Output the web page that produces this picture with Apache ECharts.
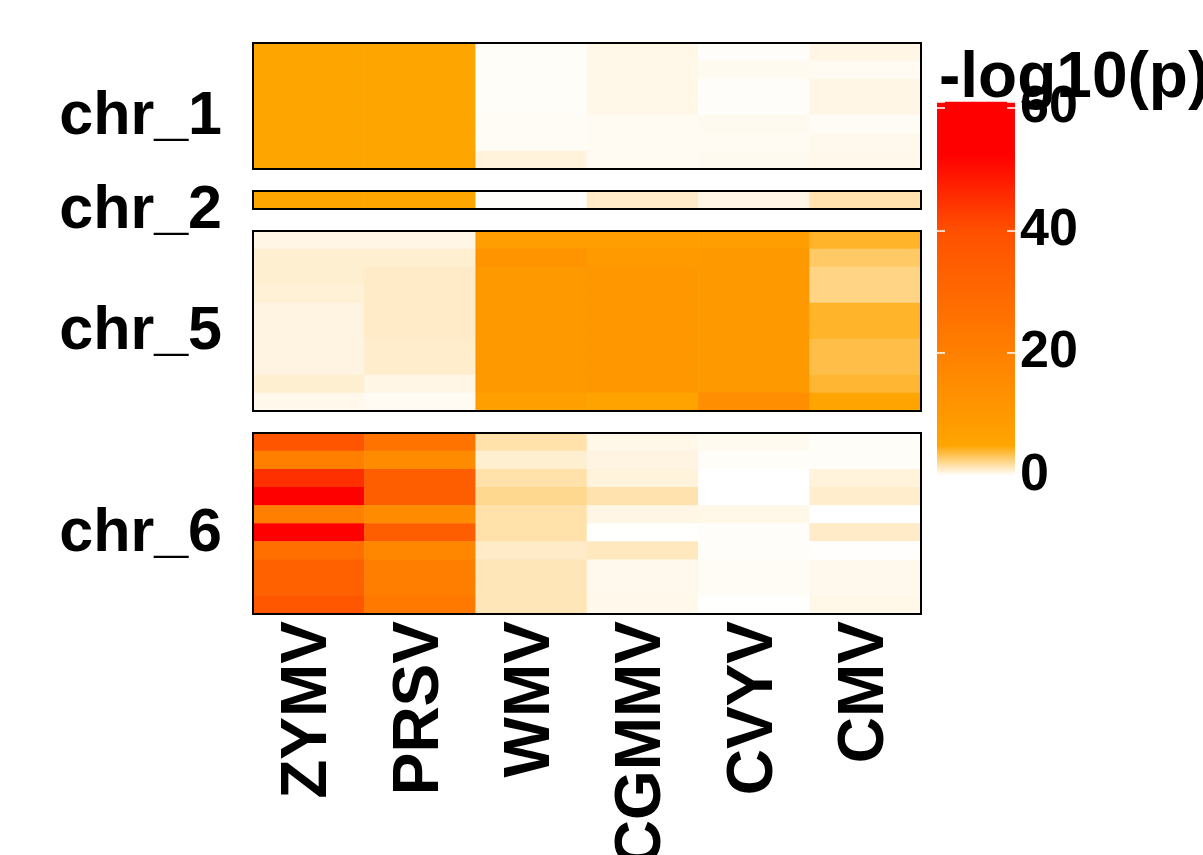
<!DOCTYPE html>
<html>
<head>
<meta charset="utf-8">
<script src="https://cdn.jsdelivr.net/npm/echarts@6/dist/echarts.min.js"></script>
<style>
html,body{margin:0;padding:0;background:#fff;}
#main{width:1203px;height:855px;}
</style>
</head>
<body>
<div id="main"></div>
<script>
// ---- data ----
const columns = ['ZYMV', 'PRSV', 'WMV', 'CGMMV', 'CVYV', 'CMV'];
const panelNames = ['chr_1', 'chr_2', 'chr_5', 'chr_6'];
// rows top to bottom, values in column order
const chr1 = [
  [5, 5, 0.15, 0.45, 0.12, 0.5],
  [5, 5, 0.15, 0.45, 0.3, 0.25],
  [5, 5, 0.15, 0.45, 0.12, 0.5],
  [5, 5, 0.15, 0.45, 0.12, 0.5],
  [5, 5, 0.2, 0.25, 0.3, 0.2],
  [5, 5, 0.2, 0.25, 0.25, 0.35],
  [5, 5, 0.7, 0.25, 0.3, 0.4]
];
const chr2 = [
  [5, 5, 0.15, 1.1, 0.5, 1.6]
];
const chr5 = [
  [0.5, 0.5, 8, 8, 8, 4.2],
  [0.9, 0.9, 12, 9, 10, 3.0],
  [0.9, 1.1, 10, 10.5, 10, 2.4],
  [0.8, 1.1, 10, 10.5, 10, 2.4],
  [0.6, 1.1, 10, 10.5, 10, 4.2],
  [0.6, 1.1, 10, 10.5, 10, 4.2],
  [0.6, 1.0, 10, 10.5, 10, 3.6],
  [0.6, 1.0, 10, 10.5, 10, 3.6],
  [0.9, 0.5, 10, 10.5, 10, 4.0],
  [0.4, 0.25, 7, 6, 14, 5.2]
];
const chr6 = [
  [38, 25, 1.7, 0.45, 0.3, 0.15],
  [20, 15, 0.9, 0.6, 0.15, 0.15],
  [45, 34, 1.7, 0.7, 0.0, 0.7],
  [55, 34, 2.2, 1.6, 0.0, 1.0],
  [20, 15, 1.7, 0.5, 0.45, 0.0],
  [54, 34, 1.7, 0.03, 0.1, 1.1],
  [27, 17, 1.1, 1.3, 0.1, 0.05],
  [33, 21, 1.4, 0.35, 0.2, 0.35],
  [33, 21, 1.4, 0.35, 0.2, 0.35],
  [37, 23, 1.4, 0.4, 0.03, 0.45]
];
const panels = [chr1, chr2, chr5, chr6];
const legendTicks = [0, 20, 40, 60];
const legendMax = 61;
const legendTitle = '-log10(p)';

// ---- colour scale ----
const colorStops = [[0, '#FFFFFF'], [5, '#FFA500'], [20, '#FF8000'], [40, '#FF5000'], [52.4, '#FF0000'], [61, '#FF0000']];
function hex2rgb(h) { return [parseInt(h.substr(1,2),16), parseInt(h.substr(3,2),16), parseInt(h.substr(5,2),16)]; }
function colorAt(v) {
  for (let i = 0; i < colorStops.length - 1; i++) {
    const a = colorStops[i], b = colorStops[i+1];
    if (v <= b[0]) {
      const t = (v - a[0]) / (b[0] - a[0]);
      const ca = hex2rgb(a[1]), cb = hex2rgb(b[1]);
      return 'rgb(' + ca.map((c, k) => Math.round(c + (cb[k] - c) * t)).join(',') + ')';
    }
  }
  return colorStops[colorStops.length - 1][1];
}
const rampColors = [];
for (let v = 0; v <= legendMax + 1e-9; v += 0.25) rampColors.push(colorAt(v));

// ---- layout ----
const FONT = '"Liberation Sans", Arial, sans-serif';
const gridTops = [43, 191, 231, 433];
const gridHeights = [126, 18, 180, 181];
const gridLeft = 253, gridWidth = 668;

const grids = [], xAxes = [], yAxes = [], series = [];
panels.forEach((rows, p) => {
  grids.push({left: gridLeft, top: gridTops[p], width: gridWidth, height: gridHeights[p],
    outerBoundsMode: 'none', containLabel: false,
    show: true, borderColor: '#000', borderWidth: 2, backgroundColor: 'transparent', z: 10});
  const last = p === panels.length - 1;
  xAxes.push({type: 'category', gridIndex: p, data: columns, show: last,
    axisLine: {show: false}, axisTick: {show: false}, splitLine: {show: false},
    axisLabel: {show: last, rotate: 90, margin: 7, fontSize: 64, fontWeight: 'bold', color: '#000', fontFamily: FONT}});
  yAxes.push({type: 'category', gridIndex: p, inverse: true,
    data: rows.map((r, i) => String(i)),
    axisLine: {show: false}, axisTick: {show: false}, axisLabel: {show: false}, splitLine: {show: false},
    name: '{n|' + panelNames[p] + '}', nameLocation: 'middle', nameRotate: 0, nameGap: 31,
    nameTextStyle: {align: 'right', verticalAlign: 'middle',
      rich: {n: {fontSize: 61, fontWeight: 'bold', color: '#000', fontFamily: FONT, padding: [22, 0, 0, 0]}}}});
  const d = [];
  rows.forEach((r, i) => r.forEach((v, j) => d.push([j, i, v])));
  series.push({type: 'heatmap', xAxisIndex: p, yAxisIndex: p, data: d, silent: true,
    itemStyle: {borderWidth: 0}, emphasis: {disabled: true}, progressive: 0});
});

// colour bar
const cbIndex = panels.length;
grids.push({left: 937, top: 101.7, width: 78, height: 374.1, show: false, outerBoundsMode: 'none', containLabel: false});
xAxes.push({type: 'category', gridIndex: cbIndex, data: [''], show: false});
const tickStyle = {show: true, inside: true, length: 8, lineStyle: {color: '#fff', width: 1.5}};
yAxes.push({type: 'value', gridIndex: cbIndex, min: 0, max: legendMax, interval: 20, position: 'left', z: 10,
  axisLine: {show: false}, splitLine: {show: false}, axisLabel: {show: false}, axisTick: tickStyle});
yAxes.push({type: 'value', gridIndex: cbIndex, min: 0, max: legendMax, interval: 20, position: 'right', z: 10,
  axisLine: {show: false}, splitLine: {show: false}, axisTick: tickStyle,
  axisLabel: {show: true, margin: 5, fontSize: 52, fontWeight: 'bold', color: '#000', fontFamily: FONT,
    formatter: v => legendTicks.indexOf(v) >= 0 ? String(v) : ''}});
series.push({type: 'bar', xAxisIndex: cbIndex, yAxisIndex: cbIndex, data: [legendMax], barWidth: '100%', silent: true,
  itemStyle: {color: {type: 'linear', x: 0, y: 1, x2: 0, y2: 0,
    colorStops: colorStops.map(s => ({offset: s[0] / legendMax, color: s[1]}))}}});

const chart = echarts.init(document.getElementById('main'), null, {renderer: 'canvas'});
chart.setOption({
  backgroundColor: '#fff',
  animation: false,
  title: {text: legendTitle, left: 934, top: 42,
    textStyle: {fontSize: 64, fontWeight: 'bold', color: '#000', fontFamily: FONT}},
  grid: grids, xAxis: xAxes, yAxis: yAxes,
  visualMap: {type: 'continuous', show: false, min: 0, max: legendMax, seriesIndex: [0, 1, 2, 3],
    inRange: {color: rampColors}},
  series: series
});
</script>
</body>
</html>
